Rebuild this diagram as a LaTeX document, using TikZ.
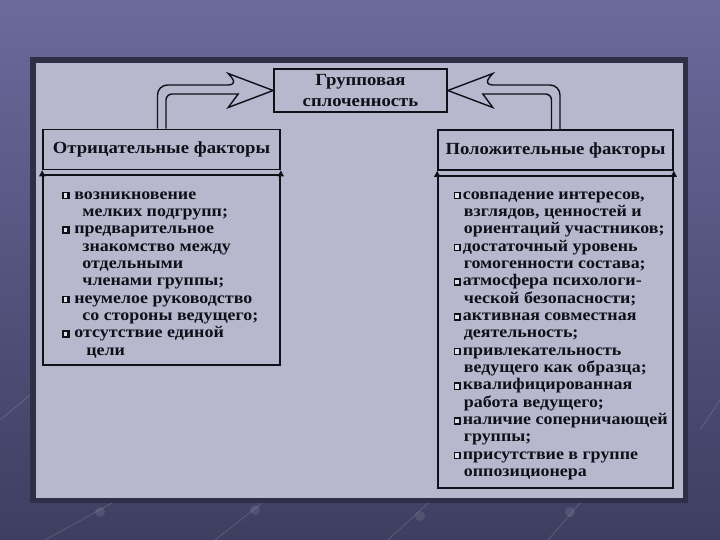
\documentclass[tikz,border=0pt]{standalone}
\usepackage{fontspec}
\setmainfont{Liberation Serif}
\newfontfamily\widefont[FakeStretch=1.1]{Liberation Serif}
\usetikzlibrary{calc,arrows.meta}
\definecolor{bgtop}{HTML}{6A6A9C}
\definecolor{bgbot}{HTML}{3D3E60}
\definecolor{panel}{HTML}{B7B8CE}
\definecolor{framec}{HTML}{2F3048}
\definecolor{ink}{HTML}{101018}
\newcommand{\bxl}{\makebox[12pt][l]{\rlap{\rule{7.5pt}{7.5pt}}\hspace{1.2pt}\raisebox{1.4pt}{\color{white!55!panel}\rule{3.6pt}{4.6pt}}}}
\newcommand{\bxr}{\makebox[9pt][l]{\rlap{\rule{7.5pt}{7.5pt}}\hspace{1.2pt}\raisebox{1.4pt}{\color{white!55!panel}\rule{3.6pt}{4.6pt}}}}
\newcommand{\indl}{\hspace*{20pt}}
\newcommand{\indr}{\hspace*{10pt}}
\begin{document}
\begin{tikzpicture}[x=1pt,y=-1pt,
  box/.style={draw=ink,line width=1.6pt,fill=panel,inner sep=0pt},
  hollow/.style={draw=ink,line width=1.4pt,fill=panel,line join=miter},
  smallarr/.style={draw=ink,line width=1.2pt,-{Triangle[length=6pt,width=6pt]}},
  head/.style={font=\widefont\fontsize{17}{20.5}\selectfont\bfseries,text=ink},
  listtxt/.style={font=\widefont\fontsize{16.3}{17.35}\selectfont\bfseries,text=ink,align=left,inner sep=0pt,anchor=north west},
  decor/.style={white,opacity=0.15,line width=0.8pt}]
\useasboundingbox (0,0) rectangle (720,540);
\shade[top color=bgtop,bottom color=bgbot] (0,0) rectangle (720,540);
% faint background decoration
\draw[decor] (45,540) -- (112,503);
\draw[decor] (215,540) -- (262,503);
\draw[decor] (388,540) -- (428,503);
\draw[decor] (548,540) -- (580,503);
\draw[decor] (0,420) -- (30,395);
\draw[decor] (700,430) -- (720,400);
\fill[white,opacity=0.1] (100,512) circle (5);
\fill[white,opacity=0.1] (255,510) circle (5);
\fill[white,opacity=0.1] (420,516) circle (5);
\fill[white,opacity=0.1] (570,512) circle (5);
% frame and panel
\fill[framec] (30,57) rectangle (688,503);
\fill[panel] (36,63) rectangle (683,498);
% boxes
\node[box,head,minimum width=173pt,minimum height=43pt,align=center] (center) at (360.5,90.5) {Групповая\\сплоченность};
\node[box,head,minimum width=237pt,minimum height=40pt] (lh) at (161.5,149.5) {Отрицательные факторы};
\node[box,minimum width=237pt,minimum height=190pt] (ll) at (161.5,270) {};
\node[box,head,minimum width=235pt,minimum height=40pt] (rh) at (555.5,150) {Положительные факторы};
\node[box,minimum width=235pt,minimum height=312pt] (rl) at (555.5,332) {};
% small arrows
\draw[smallarr] (ll.north west) -- (lh.south west);
\draw[smallarr] (ll.north east) -- (lh.south east);
\draw[smallarr] (rl.north west) -- (rh.south west);
\draw[smallarr] (rl.north east) -- (rh.south east);
% hollow arrows
\draw[hollow] [rounded corners=10pt] ($(lh.north)+(-4,0)$) |- ($(center.west)+(-35,-5.5)$) [sharp corners]
  -- ($(center.west)+(-45,-17)$) -- (center.west) -- ($(center.west)+(-45,17)$) -- ($(center.west)+(-35,3.5)$)
  [rounded corners=6pt] -| ($(lh.north)+(4.5,0)$);
\draw[hollow] [rounded corners=10pt] ($(rh.north)+(4.5,0)$) |- ($(center.east)+(35,-5.5)$) [sharp corners]
  -- ($(center.east)+(45,-17)$) -- (center.east) -- ($(center.east)+(45,17)$) -- ($(center.east)+(35,3.5)$)
  [rounded corners=6pt] -| ($(rh.north)+(-4,0)$);
% list texts
\node[listtxt] (ltext) at ($(ll.north west)+(20,17)$) {%
\bxl возникновение\\
\indl мелких подгрупп;\\
\bxl предварительное\\
\indl знакомство между\\
\indl отдельными\\
\indl членами группы;\\
\bxl неумелое руководство\\
\indl со стороны ведущего;\\
\bxl отсутствие единой\\
\indl\hspace*{4pt}цели};
\node[listtxt] (rtext) at ($(rl.north west)+(16.5,16)$) {%
\bxr совпадение интересов,\\
\indr взглядов, ценностей и\\
\indr ориентаций участников;\\
\bxr достаточный уровень\\
\indr гомогенности состава;\\
\bxr атмосфера психологи-\\
\indr ческой безопасности;\\
\bxr активная совместная\\
\indr деятельность;\\
\bxr привлекательность\\
\indr ведущего как образца;\\
\bxr квалифицированная\\
\indr работа ведущего;\\
\bxr наличие соперничающей\\
\indr группы;\\
\bxr присутствие в группе\\
\indr оппозиционера};
\end{tikzpicture}
\end{document}
